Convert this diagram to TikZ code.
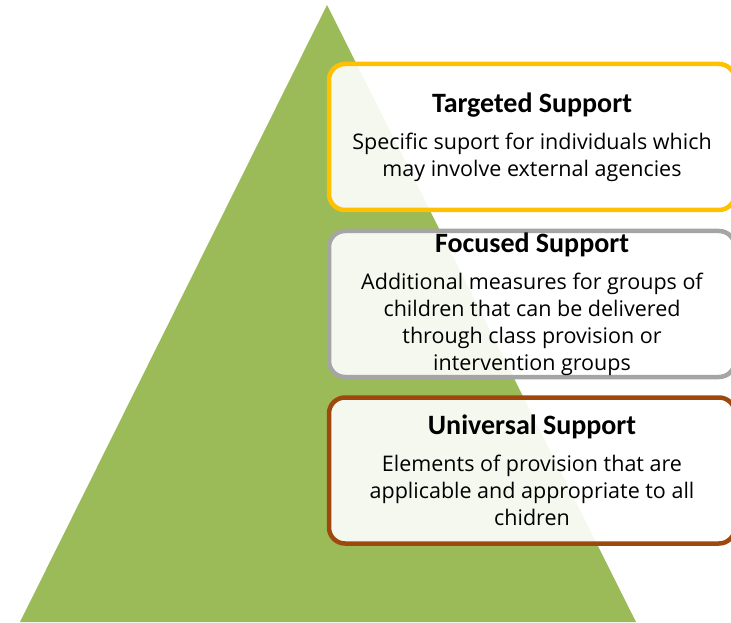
\documentclass[tikz,border=0pt]{standalone}
\usepackage{fontspec}
\setmainfont{Open Sans}
\newfontfamily\headfont{Carlito}
\usetikzlibrary{positioning}
\definecolor{pyrgreen}{HTML}{9BBB59}
\definecolor{tgtyellow}{HTML}{FFC000}
\definecolor{focgray}{HTML}{A5A5A5}
\definecolor{unibrown}{HTML}{9E480E}
\newcommand{\tiertitle}[1]{{\headfont\bfseries\fontsize{28}{30}\selectfont #1}\\[10pt]}

\begin{document}
\begin{tikzpicture}[x=1pt,y=1pt,
  tier/.style={draw,line width=4.5pt,rounded corners=16pt,fill=white,fill opacity=0.9,text opacity=1,
    minimum width=406pt,minimum height=146pt,align=center,inner sep=0pt,
    font=\fontsize{21.5}{27}\selectfont}]
\useasboundingbox (0,0) rectangle (731,622);
\fill[pyrgreen] (20,0) -- (327,617) -- (636,0) -- cycle;
\node[tier,draw=tgtyellow] (targeted) at (532,485) {\tiertitle{Targeted Support}Specific suport for individuals which\\may involve external agencies};
\node[tier,draw=focgray] (focused) at (532,318) {\tiertitle{Focused Support}Additional measures for groups of\\children that can be delivered\\through class provision or\\intervention groups};
\node[tier,draw=unibrown] (universal) at (532,151.5) {\tiertitle{Universal Support}Elements of provision that are\\applicable and appropriate to all\\chidren};
\end{tikzpicture}
\end{document}
